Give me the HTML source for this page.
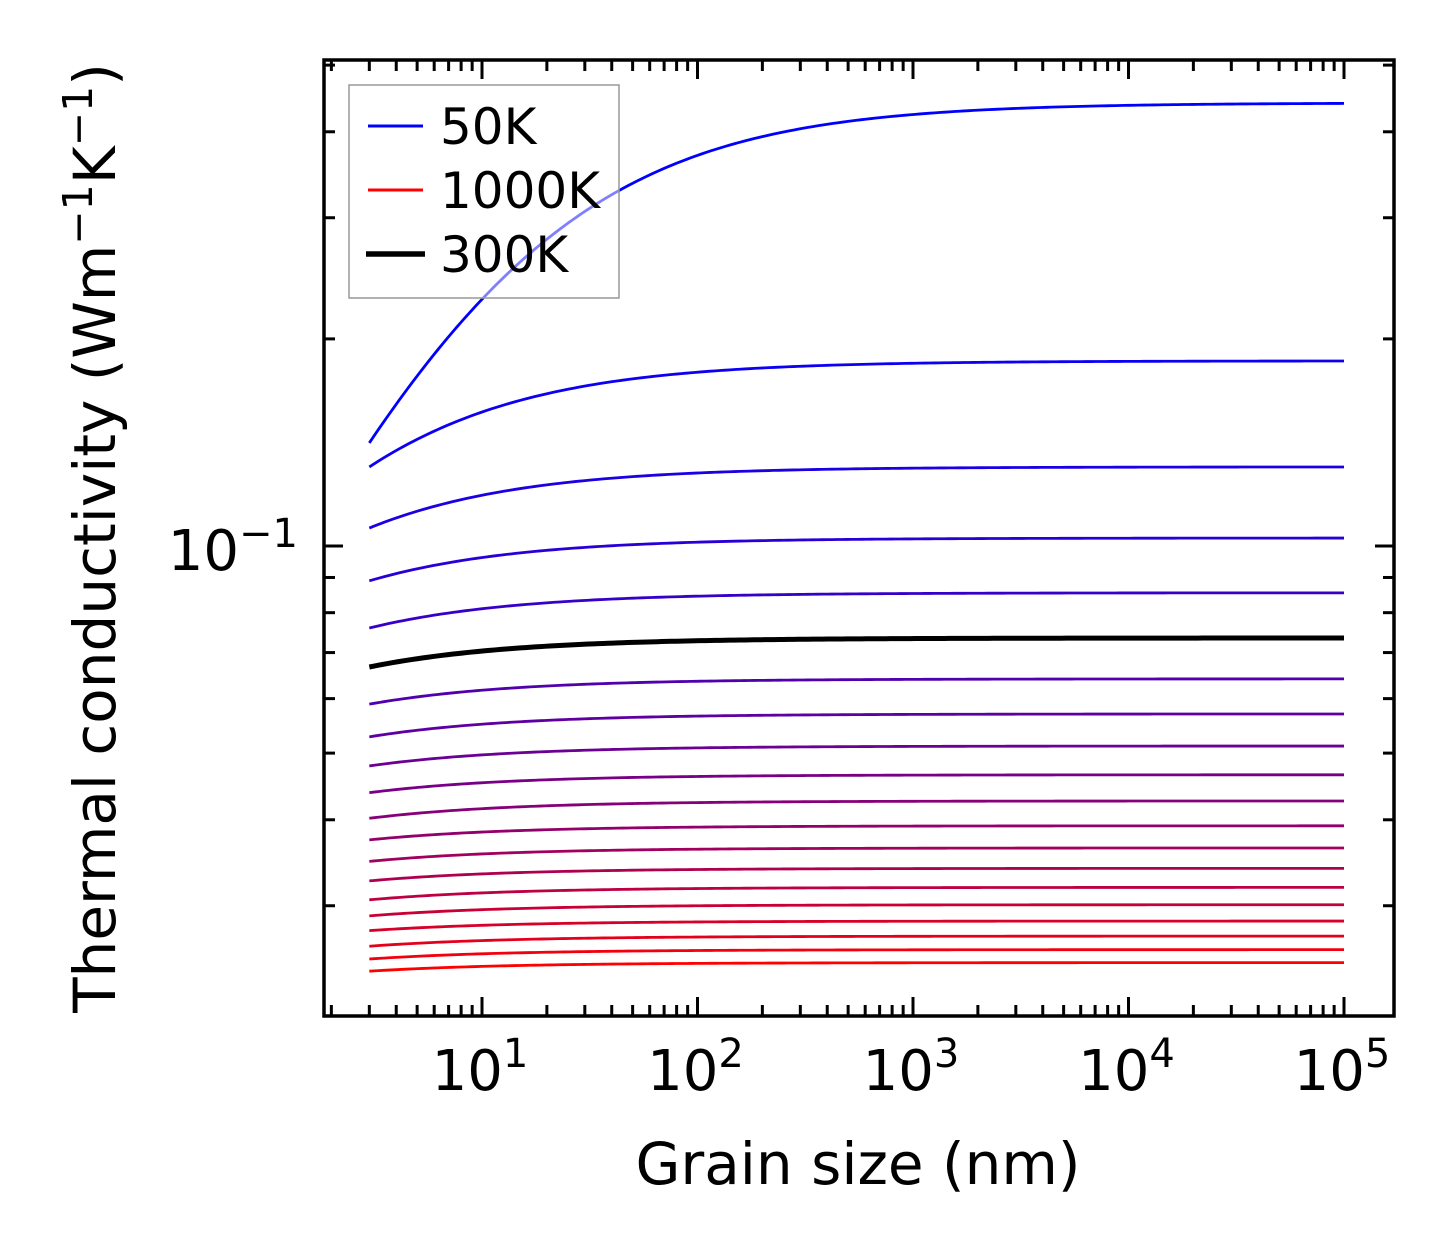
<!DOCTYPE html>
<html><head><meta charset="utf-8"><style>
html,body{margin:0;padding:0;background:#fff;}
svg{display:block;font-family:"DejaVu Sans","Liberation Sans",sans-serif;}
</style></head><body>
<svg id="chart" width="1454" height="1254" viewBox="0 0 1454 1254" xmlns="http://www.w3.org/2000/svg">
<rect x="0" y="0" width="1454" height="1254" fill="#fff"/>
<g id="curves"></g>
<g id="ticks"></g>
<rect x="324" y="60" width="1070" height="956" fill="none" stroke="#000" stroke-width="3.5"/>
<g id="labels"></g>
<text x="858" y="1184" font-size="58" text-anchor="middle">Grain size (nm)</text>
<text transform="translate(115,538) rotate(-90)" font-size="58" text-anchor="middle">Thermal conductivity (Wm<tspan dy="-23" font-size="41">−1</tspan><tspan dy="23">K</tspan><tspan dy="-23" font-size="41">−1</tspan><tspan dy="23">)</tspan></text>
<g>
<rect x="349" y="85" width="270" height="213" fill="#fff" fill-opacity="0.5" stroke="#999" stroke-width="1.5"/>
<line x1="368" y1="126" x2="423" y2="126" stroke="#00f" stroke-width="3"/>
<text x="440" y="144" font-size="50">50K</text>
<line x1="368" y1="190" x2="423" y2="190" stroke="#f00" stroke-width="3"/>
<text x="440" y="208" font-size="50">1000K</text>
<line x1="366" y1="254" x2="425" y2="254" stroke="#000" stroke-width="5.5"/>
<text x="440" y="272" font-size="50">300K</text>
</g>
</svg>
<script>
const temps = [50,100,150,200,250,300,350,400,450,500,550,600,650,700,750,800,850,900,950,1000];
const kappaBulk = [0.4406,0.1858,0.1303,0.1027,0.0855,0.0735,0.0641,0.0570,0.0512,0.0465,0.0426,0.0392,0.0364,0.0340,0.0319,0.0301,0.0285,0.0271,0.0259,0.0248];
const kappaAt3nm = [0.1412,0.1303,0.1062,0.0890,0.0760,0.0667,0.0589,0.0528,0.0479,0.0438,0.0402,0.0374,0.0348,0.0326,0.0306,0.0290,0.0276,0.0262,0.0251,0.0241];
const xTickLabels = ["1","2","3","4","5"];
const yTickLabels = ["-1"];
const grainMin = 3, grainMax = 1e5, shapeExp = 0.685;

const NS = "http://www.w3.org/2000/svg";
function xPix(v){ return 482 + (Math.log10(v) - 1) * 215.5; }
function yPix(v){ return 546 - (Math.log10(v) + 1) * 688; }
function mk(tag, attrs, parent){ const e = document.createElementNS(NS, tag); for (const k in attrs) e.setAttribute(k, attrs[k]); parent.appendChild(e); return e; }

const curves = document.getElementById('curves');
function drawCurve(i, color, width, name){
  const kb = kappaBulk[i], k0 = kappaAt3nm[i];
  const c = Math.pow(kb / k0 - 1, 1 / shapeExp) * grainMin;
  let d = "";
  const n = 200;
  for (let j = 0; j <= n; j++){
    const L = Math.pow(10, Math.log10(grainMin) + (Math.log10(grainMax) - Math.log10(grainMin)) * j / n);
    const k = kb / (1 + Math.pow(c / L, shapeExp));
    d += (j ? "L" : "M") + xPix(L).toFixed(2) + "," + yPix(k).toFixed(2);
  }
  const p = mk('path', {d: d, fill: 'none', stroke: color, 'stroke-width': width}, curves);
  
  
}
temps.forEach((T, i) => {
  const t = i / (temps.length - 1);
  const col = 'rgb(' + Math.round(255 * t) + ',0,' + Math.round(255 * (1 - t)) + ')';
  if (T === 300) drawCurve(i, '#000', 5, 'curve-300k');
  else drawCurve(i, col, 2.8, 'curve-' + T + 'k');
});

const ticks = document.getElementById('ticks');
const L = 324, R = 1394, T = 60, B = 1016;
function tickLine(x1,y1,x2,y2,name){
  const l = mk('line', {x1:x1,y1:y1,x2:x2,y2:y2,stroke:'#000','stroke-width':3}, ticks);
  
  
}
for (let e = 0; e <= 5; e++){
  for (let m = 1; m <= 9; m++){
    const x = xPix(m * Math.pow(10, e));
    if (x < L + 1 || x > R - 1) continue;
    const len = m === 1 ? 19 : 11;
    tickLine(x, B, x, B - len, 'x-tick');
    tickLine(x, T, x, T + len, 'x-tick-top');
  }
}
for (let e = -2; e <= 0; e++){
  for (let m = 1; m <= 9; m++){
    const y = yPix(m * Math.pow(10, e));
    if (y < T + 1 || y > B - 1) continue;
    const len = m === 1 ? 19 : 11;
    tickLine(L, y, L + len, y, 'y-tick');
    tickLine(R, y, R - len, y, 'y-tick-right');
  }
}
const labels = document.getElementById('labels');
xTickLabels.forEach(s => {
  const x = xPix(Math.pow(10, +s));
  const t = mk('text', {x: x - 2, y: 1090, 'font-size': 56, 'text-anchor': 'middle'}, labels);
  
  
  t.innerHTML = '10<tspan dy="-23" font-size="40">' + s + '</tspan>';
});
yTickLabels.forEach(s => {
  const y = yPix(Math.pow(10, +s));
  const t = mk('text', {x: 298, y: y + 24, 'font-size': 56, 'text-anchor': 'end'}, labels);
  
  
  t.innerHTML = '10<tspan dy="-23" font-size="40">' + s.replace('-', '−') + '</tspan>';
});
</script>
</body></html>
